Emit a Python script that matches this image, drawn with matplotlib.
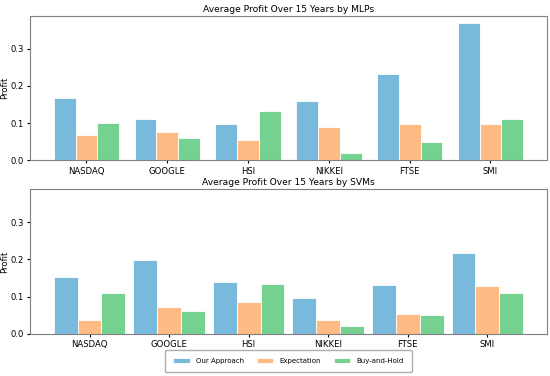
import numpy as np
import matplotlib
matplotlib.use("Agg")
import matplotlib.pyplot as plt

# markets and profit values
markets = ["NASDAQ", "GOOGLE", "HSI", "NIKKEI", "FTSE", "SMI"]
series_names = ["Our Approach", "Expectation", "Buy-and-Hold"]

mlp_ours = [0.168, 0.111, 0.098, 0.159, 0.232, 0.368]
mlp_expect = [0.069, 0.076, 0.054, 0.090, 0.097, 0.097]
mlp_hold = [0.099, 0.061, 0.132, 0.019, 0.049, 0.110]

svm_ours = [0.153, 0.199, 0.138, 0.097, 0.130, 0.217]
svm_expect = [0.037, 0.073, 0.085, 0.037, 0.053, 0.128]
svm_hold = [0.110, 0.061, 0.133, 0.021, 0.050, 0.111]

colors = ["#78b9dc", "#ffbb84", "#74d190"]

plt.rcParams["font.family"] = "DejaVu Sans"
plt.rcParams["font.size"] = 6

fig, (ax1, ax2) = plt.subplots(2, 1, figsize=(5.5, 3.76), dpi=100, sharey=True)
fig.subplots_adjust(left=0.055, right=0.994, top=0.958, bottom=0.112, hspace=0.2)

x = np.arange(len(markets))

def draw(ax, vals, w, title):
    for i, (v, c, name) in enumerate(zip(vals, colors, series_names)):
        ax.bar(x + (i - 1) * w, v, w, color=c, edgecolor="white", linewidth=0.6, label=name)
    ax.set_xticks(x)
    ax.set_xticklabels(markets)
    ax.set_yticks([0.0, 0.1, 0.2, 0.3])
    ax.set_ylabel("Profit", fontsize=6.2)
    ax.yaxis.set_label_coords(-0.041, 0.5)
    ax.set_title(title, fontsize=6.6, pad=3)
    for s in ax.spines.values():
        s.set_color("#808080")
    ax.tick_params(length=2.5, pad=2, colors="black", labelsize=6.1)

draw(ax1, [mlp_ours, mlp_expect, mlp_hold], 0.27, "Average Profit Over 15 Years by MLPs")
draw(ax2, [svm_ours, svm_expect, svm_hold], 0.3, "Average Profit Over 15 Years by SVMs")
ax1.set_ylim(0, 0.388)

ax2.legend(loc="upper center", bbox_to_anchor=(0.5, -0.088), ncol=3, fontsize=5.0,
           frameon=True, edgecolor="#999999", handlelength=2.4, handleheight=0.7,
           handletextpad=0.9, columnspacing=1.8, borderpad=1.15, fancybox=True)

fig.savefig("out.png", dpi=100)
